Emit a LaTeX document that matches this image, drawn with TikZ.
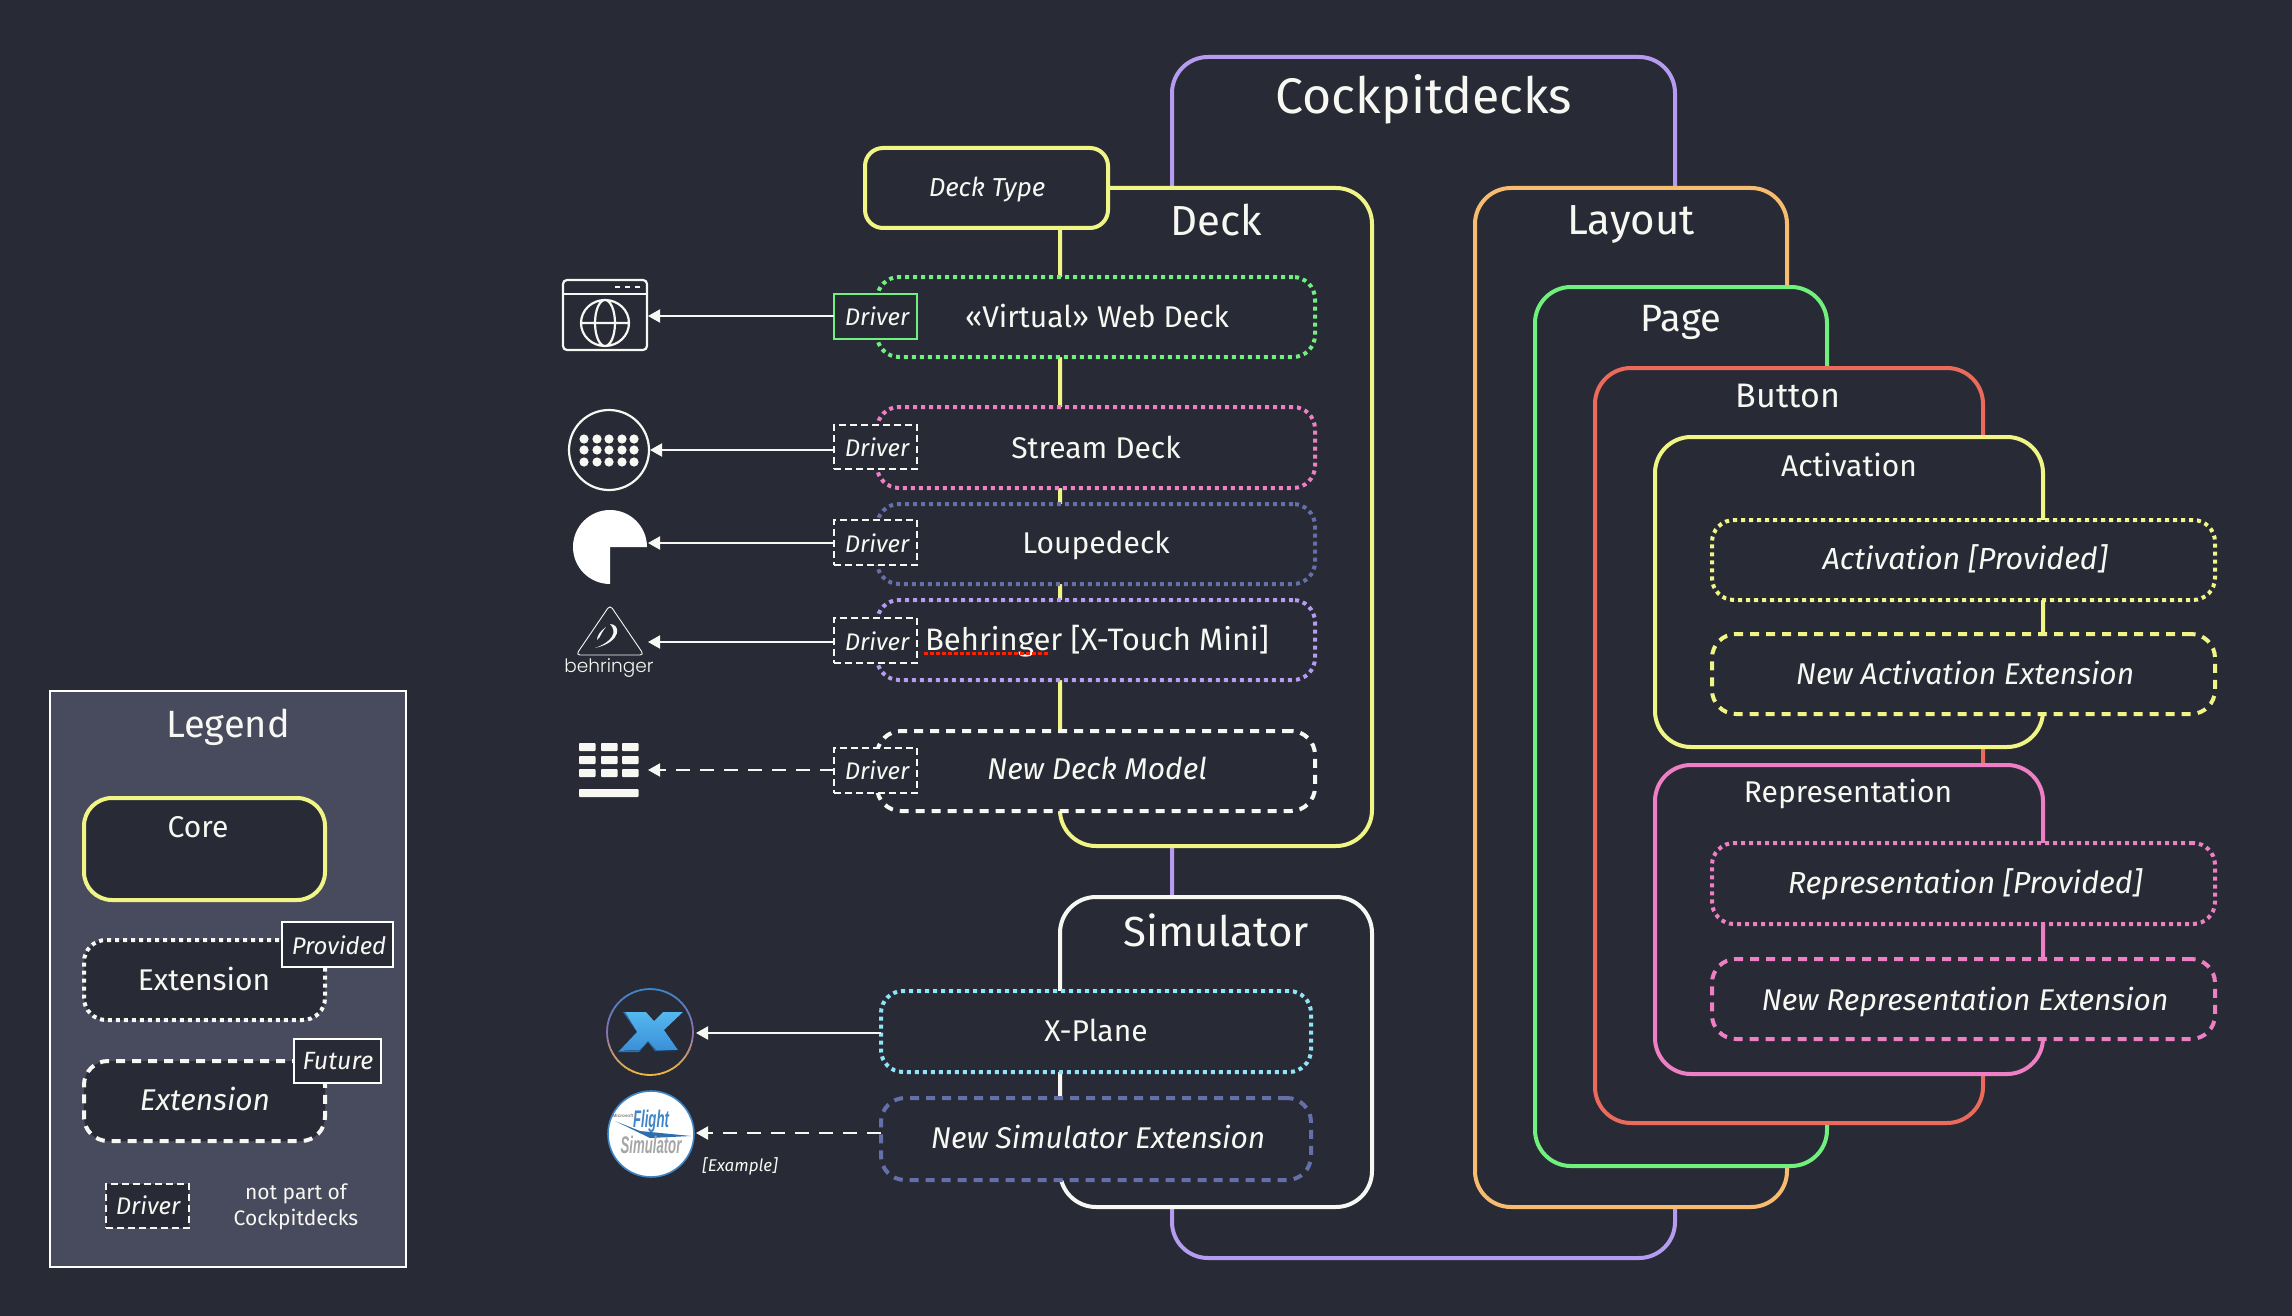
\documentclass[tikz,border=0pt]{standalone}
\usepackage{fontspec}
\setmainfont{Fira Sans}
\newfontfamily\logofont{Poppins Light}
\newfontfamily\fsfont{Liberation Sans}
\usetikzlibrary{arrows.meta}
\definecolor{bgd}{HTML}{282A36}
\definecolor{lgd}{HTML}{484A5E}
\definecolor{fgw}{HTML}{F8F8F2}
\definecolor{cpurple}{HTML}{B59CF0}
\definecolor{cgreen}{HTML}{70F07C}
\definecolor{cyellow}{HTML}{F0F585}
\definecolor{corange}{HTML}{F8BC70}
\definecolor{cred}{HTML}{EC6A5C}
\definecolor{cpink}{HTML}{EE7FC4}
\definecolor{ccyan}{HTML}{8FE4F8}
\definecolor{cslate}{HTML}{6670A8}
\definecolor{ringtop}{HTML}{3D85C6}
\definecolor{ringmid}{HTML}{8A70B0}
\definecolor{ringbot}{HTML}{F2B93B}
\definecolor{xtop}{HTML}{55B8EE}
\definecolor{xbot}{HTML}{3A8FD8}
\definecolor{xside}{HTML}{2C6FAE}
\tikzset{
  x=1pt,y=-1pt,
  boxb/.style={rectangle,rounded corners=#1,inner sep=0pt,outer sep=0pt,fill=bgd,line width=4pt},
  core/.style={boxb=36pt,draw=#1},
  prov/.style={boxb=22pt,draw=#1,dash pattern=on 4pt off 4pt},
  futr/.style={boxb=24pt,draw=#1,dash pattern=on 9pt off 7pt},
  drvbase/.style={rectangle,inner sep=0pt,outer sep=0pt,fill=bgd,line width=1.1pt},
  drv/.style={drvbase,draw=fgw,dash pattern=on 7pt off 4pt},
  lab/.style={text=fgw,inner sep=0pt,font=\fontsize{#1}{#1}\selectfont},
  ilab/.style={text=fgw,inner sep=0pt,font=\itshape\fontsize{#1}{#1}\selectfont},
  drvt/.style={ilab=24},
  arr/.style={draw=fgw,line width=2pt,-{Triangle[length=12pt,width=13pt]}},
  arrd/.style={arr,dash pattern=on 14pt off 10pt},
  icon/.style={rectangle,inner sep=0pt,outer sep=0pt},
  iconl/.style={draw=fgw,line width=2.2pt},
}
\newcommand{\bx}[7][]{%
  \pgfmathsetmacro{\mycx}{(#4+#6)/2}\pgfmathsetmacro{\mycy}{(#5+#7)/2}%
  \pgfmathsetmacro{\mywd}{#6-#4}\pgfmathsetmacro{\myht}{#7-#5}%
  \node[#3,minimum width=\mywd pt,minimum height=\myht pt,#1] (#2) at (\mycx,\mycy) {};}
\begin{document}
\begin{tikzpicture}
\useasboundingbox (0,0) rectangle (2292,1316);
\fill[bgd] (0,0) rectangle (2292,1316);

% main nested boxes
\bx{cockpit}{core=cpurple}{1172}{57}{1675}{1258}
\node[lab=50] (tcockpit) at (1424,99) {Cockpitdecks};

\bx{deck}{core=cyellow}{1060}{188}{1372}{846}
\node[lab=42] (tdeck) at (1216,220) {Deck};
\bx{decktype}{boxb=18pt,draw=cyellow}{865}{148}{1108}{228}
\node[ilab=26] (tdecktype) at (987,190) {Deck Type};

\bx{web}{prov=cgreen}{877}{277}{1315}{357}
\node[lab=30] (tweb) at (1097,316) {«Virtual» Web Deck};
\bx{stream}{prov=cpink}{877}{407}{1315}{488}
\node[lab=30] (tstream) at (1096,447) {Stream Deck};
\bx{loupe}{prov=cslate}{877}{504}{1315}{584}
\node[lab=30] (tloupe) at (1096,545) {Loupedeck};
\bx{behr}{prov=cpurple}{877}{600}{1315}{680}
\node[lab=31] (tbehr) at (1097,641) {Behringer [X-Touch Mini]};
\draw[line width=2.5pt,draw=red!75!orange,dash pattern=on 4pt off 2pt] (924,653.5) -- (1050,653.5);
\bx{newdeck}{futr=fgw}{877}{731}{1315}{811}
\node[ilab=30] (tnewdeck) at (1097,768.5) {New Deck Model};

\bx{d1}{drvbase,draw=cgreen}{834}{294}{917}{339}
\node[drvt] (td1) at (877,316) {Driver};
\bx{d2}{drv}{834}{425}{917}{469}
\node[drvt] (td2) at (877,447) {Driver};
\bx{d3}{drv}{834}{520}{917}{565}
\node[drvt] (td3) at (877,543) {Driver};
\bx{d4}{drv}{834}{618}{917}{663}
\node[drvt] (td4) at (877,641) {Driver};
\bx{d5}{drv}{834}{748}{917}{793}
\node[drvt] (td5) at (877,770) {Driver};

\bx{sim}{core=fgw}{1060}{897}{1372}{1207}
\node[lab=42] (tsim) at (1216,930) {Simulator};
\bx{xplane}{prov=ccyan}{881}{991}{1311}{1072}
\node[lab=30] (txplane) at (1096,1030) {X-Plane};
\bx{newsim}{futr=cslate}{881}{1098}{1311}{1180}
\node[ilab=30] (tnewsim) at (1098,1137) {New Simulator Extension};

\bx{layout}{core=corange}{1475}{188}{1787}{1207}
\node[lab=42] (tlayout) at (1631,225) {Layout};
\bx{page}{core=cgreen}{1535}{287}{1827}{1166}
\node[lab=38] (tpage) at (1681,322) {Page};
\bx{button}{core=cred}{1595}{368}{1983}{1123}
\node[lab=34] (tbutton) at (1788,396) {Button};
\bx{activ}{core=cyellow}{1655}{437}{2043}{747}
\node[lab=30] (tactiv) at (1849,465) {Activation};
\bx{actprov}{prov=cyellow}{1712}{520}{2215}{600}
\node[ilab=30.5] (tactprov) at (1965,559) {Activation [Provided]};
\bx{actnew}{futr=cyellow}{1712}{634}{2215}{714}
\node[ilab=30] (tactnew) at (1965,672.5) {New Activation Extension};
\bx{repr}{core=cpink}{1655}{765}{2043}{1074}
\node[lab=30] (trepr) at (1848,794) {Representation};
\bx{repprov}{prov=cpink}{1712}{843}{2215}{924}
\node[ilab=30.5] (trepprov) at (1965,884) {Representation [Provided]};
\bx{repnew}{futr=cpink}{1712}{959}{2215}{1039}
\node[ilab=30] (trepnew) at (1965,1002) {New Representation Extension};

% Icons
% Web
\node[icon,draw=fgw,line width=2.2pt,rounded corners=4pt,minimum width=84pt,minimum height=70pt] (iweb) at (605,315) {};
\draw[iconl] (563,294) -- (647,294);
\draw[line width=2.2pt,fgw] (615,287) -- (620,287) (625,287) -- (630,287) (635,287) -- (640,287);
\draw[iconl] (605,323) ellipse [x radius=24,y radius=23] ellipse [x radius=10,y radius=23] (581,323) -- (629,323);
% Stream
\node[icon,circle,draw=fgw,line width=2.2pt,minimum size=80pt] (istream) at (609,450) {};
\foreach \yy in {439,450,462}\foreach \xx in {584,597,609,622,634}{\fill[fgw] (\xx,\yy) circle [radius=4.6];}
% Loupedeck
\node[icon,minimum width=74pt,minimum height=74pt] (iloupe) at (610,547) {};
\fill[white] (647,547) arc [start angle=0,end angle=-270,radius=37] -- (610,547) -- cycle;
% Behringer
\node[icon,minimum width=87pt,minimum height=75pt] (ibehr) at (609,643) {};
\draw[fgw,line width=0.9pt,rounded corners=4pt] (610,605) -- (644,655) -- (576,655) -- cycle;
\fill[fgw] (610,624) .. controls (621,624) and (622,642) .. (595,648) .. controls (612,642) and (618,632) .. (610,624) -- cycle;
\fill[fgw] (606,627) .. controls (600,631) and (597,636) .. (597,640) .. controls (601,637) and (600,634) .. (606,627) -- cycle;
\node[text=fgw,inner sep=0pt,font=\logofont\fontsize{18.5}{19}\selectfont] (tbehringer) at (609,668) {behringer};
% New deck
\node[icon,minimum width=60pt,minimum height=58pt] (inew) at (609,770) {};
\foreach \yy in {743,756,769}{\foreach \xx in {579,601,622}{\fill[fgw,rounded corners=0.8pt] (\xx,\yy) rectangle ++(16.5,8);}}
\fill[fgw,rounded corners=0.8pt] (579,789) rectangle (638.5,797);
% X-Plane
\node[icon,circle,minimum size=86pt] (ixp) at (650,1032) {};
\foreach \a in {0,6,...,354}{%
  \pgfmathtruncatemacro{\mixv}{100*(0.5-0.5*sin(\a+3))}%
  \pgfmathtruncatemacro{\toppc}{\mixv<50 ? 100-2*\mixv : 0}%
  \pgfmathtruncatemacro{\botpc}{\mixv>=50 ? 2*\mixv-100 : 0}%
  \pgfmathsetmacro{\aend}{\a+7}%
  \ifnum\botpc>0\relax
    \colorlet{ringc}{ringbot!\botpc!ringmid}%
  \else
    \colorlet{ringc}{ringtop!\toppc!ringmid}%
  \fi
  \draw[ringc,line width=1.8pt] (650,1032) ++(\a:43 and -43) arc [start angle=-\a,end angle=-\aend,radius=43];
}
\fill[xside] (623,1012) -- (645,1012) -- (658,1050) -- (676,1051) -- (655,1051) -- (648,1042) -- (639,1052) -- (618,1052) -- (637,1032) -- cycle;
\fill[top color=xtop,bottom color=xbot] (625,1012) -- (646,1012) -- (654,1021) -- (663,1012) -- (683,1012) -- (664,1030) -- (678,1050) -- (656,1050) -- (648,1041) -- (640,1050) -- (619,1051) -- (637,1032) -- cycle;
% Flight Simulator
\node[icon,circle,fill=white,draw=ringtop,line width=1.6pt,minimum size=86pt] (ifs) at (651,1134) {};
\fill[xside] (615,1121) -- (640,1131) -- (691,1136) -- (650,1138) -- cycle;
\node[text=ringtop,inner sep=0pt,font=\fsfont\bfseries\itshape\fontsize{24}{24}\selectfont] (tflight) at (651,1121) {\scalebox{.55}[1]{Flight}};
\node[text=gray!70,inner sep=0pt,font=\fsfont\bfseries\itshape\fontsize{24}{24}\selectfont] (tfsim) at (651,1145) {\scalebox{.55}[1]{Simulator}};
\node[text=gray,inner sep=0pt,font=\fsfont\bfseries\fontsize{4.6}{5}\selectfont] (tms) at (623,1116) {Microsoft};
\node[ilab=17] (texample) at (740,1166) {[Example]};

% Arrows
\coordinate (a1) at (648,316);
\coordinate (a2) at (650,450);
\coordinate (a3) at (648,543);
\coordinate (a4) at (648,642);
\coordinate (a5) at (648,770);
\coordinate (a6) at (696,1033);
\coordinate (a7) at (696,1133);
\draw[arr] (d1.west |- a1) -- (a1);
\draw[arr] (d2.west |- a2) -- (a2);
\draw[arr] (d3.west |- a3) -- (a3);
\draw[arr] (d4.west |- a4) -- (a4);
\draw[arrd] (d5.west |- a5) -- (a5);
\draw[arr] (xplane.west |- a6) -- (a6);
\draw[arrd] (newsim.west |- a7) -- (a7);

% Legend
\bx{legend}{rectangle,draw=white,line width=1.1pt,fill=lgd,inner sep=0pt,outer sep=0pt}{50}{691}{406}{1267}
\node[lab=38] (tlegend) at (228,727) {Legend};
\bx{lcore}{core=cyellow,rounded corners=28pt}{84}{798}{325}{900}
\node[lab=30] (tlcore) at (198,827) {Core};
\bx{lprov}{prov=fgw}{84}{940}{325}{1020}
\node[lab=30] (tlprov) at (204,979) {Extension};
\bx{lprovb}{drvbase,draw=white}{282}{922}{393}{967}
\node[ilab=24] (tlprovb) at (339,945) {Provided};
\bx{lfut}{futr=fgw}{84}{1061}{325}{1141}
\node[ilab=30] (tlfut) at (205,1099) {Extension};
\bx{lfutb}{drvbase,draw=white}{294}{1039}{381}{1083}
\node[ilab=25] (tlfutb) at (338,1061) {Future};
\bx{ldrv}{drv}{106}{1184}{189}{1228}
\node[drvt] (tldrv) at (148,1205) {Driver};
\node[lab=21] (tnp1) at (296,1194) {not part of};
\node[lab=21] (tnp2) at (296,1220) {Cockpitdecks};
\end{tikzpicture}
\end{document}
